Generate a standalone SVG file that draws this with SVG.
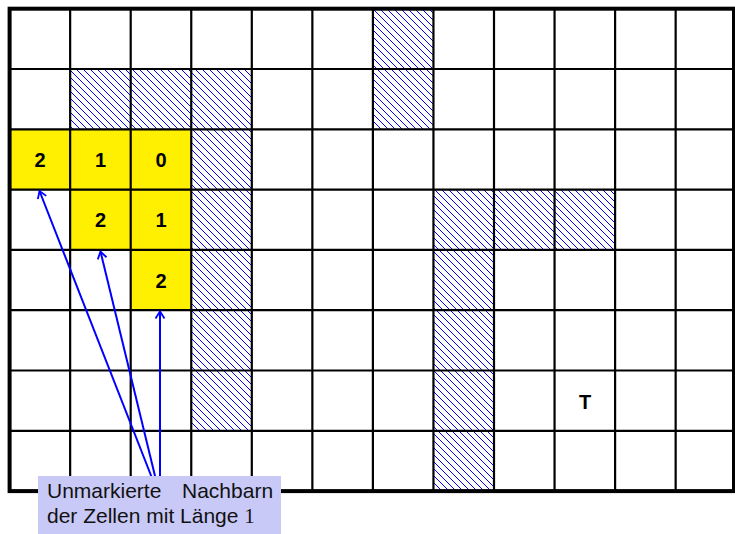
<svg xmlns="http://www.w3.org/2000/svg" width="735" height="534" viewBox="0 0 735 534">
<style>
.hatch{fill:url(#hatch);}
.yel{fill:#ffef00;}
.num{font-family:"Liberation Sans",Arial,sans-serif;font-weight:bold;font-size:20px;fill:#000;text-anchor:middle;}
.grid{stroke:#000;stroke-width:2.2;fill:none;}
.outer{stroke:#000;stroke-width:4;fill:none;}
.arr{stroke:#0000ff;stroke-width:2;fill:none;marker-end:url(#ah);}
.lbl{font-family:"Liberation Sans",Arial,sans-serif;font-size:21px;fill:#111;}
</style>
<defs>
<pattern id="hatch" patternUnits="userSpaceOnUse" width="7" height="7">
<rect width="7" height="7" fill="#fff"/>
<path d="M-1,-1 L8,8 M-1,6 L1,8 M6,-1 L8,1" stroke="#0000ff" stroke-width="1"/>
</pattern>
<marker id="ah" markerUnits="userSpaceOnUse" markerWidth="14" markerHeight="14" viewBox="-10 -7 12 14" refX="0" refY="0" orient="auto">
<path d="M-7,-4.5 L0,0 L-7,4.5" stroke="#0000ff" stroke-width="1.8" fill="none"/>
</marker>
</defs>
<rect width="735" height="534" fill="#fff"/>
<g id="obstacles">
<rect class="hatch" x="372.9" y="8.7" width="60.55" height="60.3"/>
<rect class="hatch" x="70.15" y="69" width="60.55" height="60.3"/>
<rect class="hatch" x="130.7" y="69" width="60.55" height="60.3"/>
<rect class="hatch" x="191.25" y="69" width="60.55" height="60.3"/>
<rect class="hatch" x="372.9" y="69" width="60.55" height="60.3"/>
<rect class="hatch" x="191.25" y="129.3" width="60.55" height="301.5"/>
<rect class="hatch" x="433.45" y="189.6" width="181.65" height="60.3"/>
<rect class="hatch" x="433.45" y="249.9" width="60.55" height="241.2"/>
</g>
<g id="cell-2-0"><rect class="yel" x="9.6" y="129.3" width="60.55" height="60.3"/><text class="num" x="40" y="166.5">2</text></g>
<g id="cell-2-1"><rect class="yel" x="70.15" y="129.3" width="60.55" height="60.3"/><text class="num" x="100.5" y="166.5">1</text></g>
<g id="cell-2-2"><rect class="yel" x="130.7" y="129.3" width="60.55" height="60.3"/><text class="num" x="161" y="166.5">0</text></g>
<g id="cell-3-1"><rect class="yel" x="70.15" y="189.6" width="60.55" height="60.3"/><text class="num" x="100.5" y="227">2</text></g>
<g id="cell-3-2"><rect class="yel" x="130.7" y="189.6" width="60.55" height="60.3"/><text class="num" x="161" y="227">1</text></g>
<g id="cell-4-2"><rect class="yel" x="130.7" y="249.9" width="60.55" height="60.3"/><text class="num" x="161" y="287.5">2</text></g>
<g id="target"><text class="num" x="585" y="408.5">T</text></g>
<g id="grid">
<path class="grid" d="M70.15,8.7V491.1 M130.7,8.7V491.1 M191.25,8.7V491.1 M251.8,8.7V491.1 M312.35,8.7V491.1 M372.9,8.7V491.1 M433.45,8.7V491.1 M494,8.7V491.1 M554.55,8.7V491.1 M615.1,8.7V491.1 M675.65,8.7V491.1"/>
<path class="grid" d="M9.6,69H736 M9.6,129.3H736 M9.6,189.6H736 M9.6,249.9H736 M9.6,310.2H736 M9.6,370.5H736 M9.6,430.8H736"/>
<rect class="outer" x="9.6" y="8.7" width="724.4" height="482.4"/>
</g>
<g id="connectors">
<line class="arr" x1="152" y1="478" x2="39.5" y2="191"/>
<line class="arr" x1="155.5" y1="478" x2="100.5" y2="251.5"/>
<line class="arr" x1="160" y1="478" x2="160" y2="311.5"/>
</g>
<g id="label">
<rect x="38" y="476" width="243" height="60" fill="#c9c9f7"/>
<text class="lbl" y="498"><tspan x="47">Unmarkierte</tspan><tspan x="182">Nachbarn</tspan></text>
<text class="lbl" x="47" y="523">der Zellen mit Länge <tspan style="font-family:'Liberation Serif','Times New Roman',serif">1</tspan></text>
</g>
</svg>
